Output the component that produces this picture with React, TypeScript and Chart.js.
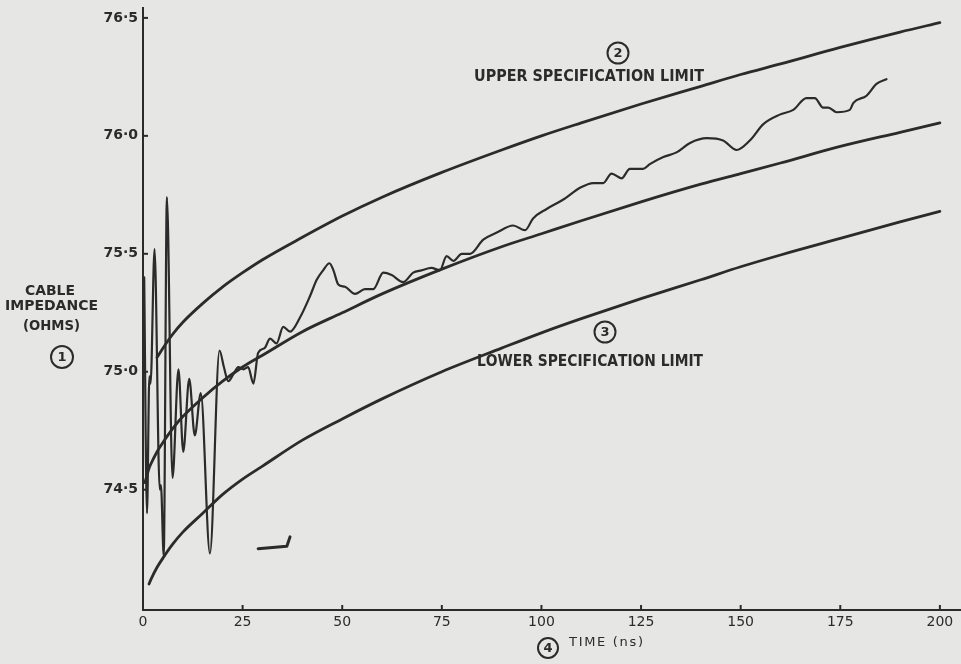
import { useEffect, useRef } from 'react';
import { Chart, registerables } from 'chart.js';

Chart.register(...registerables);

// ---- axis ticks ----
const xTicks = [0, 25, 50, 75, 100, 125, 150, 175, 200];
const yTicks = [74.0, 74.5, 75.0, 75.5, 76.0, 76.5];

// ---- specification curves (time in ns, impedance in ohms) ----
const specTime = [0.5, 1.5, 2, 3.5, 5, 7.5, 10, 15, 20, 25, 30, 40, 50, 60, 75, 90, 100, 110, 125, 140, 150, 160, 175, 190, 200];
const upperLimit = [null, null, null, 75.06, 75.10, 75.16, 75.21, 75.29, 75.36, 75.42, 75.475, 75.57, 75.66, 75.74, 75.845, 75.94, 76.0, 76.055, 76.135, 76.21, 76.26, 76.305, 76.375, 76.44, 76.48];
const nominal = [74.53, 74.59, 74.61, 74.66, 74.70, 74.76, 74.81, 74.89, 74.96, 75.02, 75.07, 75.17, 75.25, 75.33, 75.435, 75.53, 75.585, 75.64, 75.72, 75.795, 75.84, 75.885, 75.955, 76.015, 76.055];
const lowerLimit = [null, 74.10, 74.12, 74.17, 74.21, 74.27, 74.32, 74.40, 74.48, 74.545, 74.60, 74.71, 74.80, 74.885, 75.0, 75.10, 75.165, 75.225, 75.31, 75.39, 75.445, 75.495, 75.565, 75.635, 75.68];

// ---- measured cable impedance ----
const measuredTime = [0.3, 1.0, 1.6, 1.9, 2.9, 4.2, 4.5, 5.2, 6.0, 7.4, 8.9, 10.1, 11.6, 13.0, 14.5, 16.8, 19.2, 20.3, 21.4, 22.7, 23.9, 25.2, 26.4, 27.7, 28.9, 30.5, 31.9, 33.5, 35.2, 36.9, 39.4, 41.9, 43.6, 45.2, 46.8, 47.8, 49.0, 50.7, 53.2, 55.7, 57.8, 60.3, 62.4, 65.3, 67.8, 69.9, 72.4, 74.5, 76.2, 77.9, 80.0, 82.1, 85.4, 88.8, 92.9, 95.9, 97.9, 101.3, 105.5, 109.7, 113.0, 115.5, 117.6, 120.1, 122.2, 125.5, 127.2, 130.6, 133.9, 137.3, 141.5, 145.6, 149.0, 152.3, 155.7, 159.8, 163.2, 166.5, 168.6, 170.7, 172.0, 174.1, 177.4, 178.3, 181.6, 184.1, 186.6];
const measuredImpedance = [75.40, 74.40, 74.98, 74.95, 75.52, 74.50, 74.52, 74.22, 75.74, 74.55, 75.01, 74.66, 74.97, 74.73, 74.91, 74.23, 75.09, 75.02, 74.96, 74.99, 75.02, 75.01, 75.02, 74.95, 75.08, 75.10, 75.14, 75.12, 75.19, 75.17, 75.23, 75.32, 75.39, 75.43, 75.46, 75.43, 75.37, 75.36, 75.33, 75.35, 75.35, 75.42, 75.41, 75.38, 75.42, 75.43, 75.44, 75.43, 75.49, 75.47, 75.50, 75.50, 75.56, 75.59, 75.62, 75.60, 75.65, 75.69, 75.73, 75.78, 75.80, 75.80, 75.84, 75.82, 75.86, 75.86, 75.88, 75.91, 75.93, 75.97, 75.99, 75.98, 75.94, 75.98, 76.05, 76.09, 76.11, 76.16, 76.16, 76.12, 76.12, 76.10, 76.11, 76.14, 76.17, 76.22, 76.24];

// ---- stray trace fragment ----
const fragmentTime = [28.9, 36.1, 36.9];
const fragmentImpedance = [74.25, 74.26, 74.30];

const INK = '#2b2b2b';
const BG = '#e6e6e4';
const FONT = '"DejaVu Sans", "Liberation Sans", sans-serif';

function pts(xs: number[], ys: (number | null)[]) {
  return xs.map((x, i) => ({ x, y: ys[i] }));
}

function drawFit(ctx: CanvasRenderingContext2D, text: string, x0: number, x1: number, cy: number, font: string) {
  ctx.font = font;
  ctx.textBaseline = 'middle';
  ctx.textAlign = 'left';
  const chars = Array.from(text);
  const widths = chars.map((c) => ctx.measureText(c).width);
  const natural = widths.reduce((a, b) => a + b, 0);
  const target = x1 - x0;
  if (natural <= target) {
    const sp = chars.length > 1 ? (target - natural) / (chars.length - 1) : 0;
    let x = x0;
    chars.forEach((c, i) => {
      ctx.fillText(c, x, cy);
      x += widths[i] + sp;
    });
  } else {
    ctx.save();
    ctx.translate(x0, cy);
    ctx.scale(target / natural, 1);
    let x = 0;
    chars.forEach((c, i) => {
      ctx.fillText(c, x, 0);
      x += widths[i];
    });
    ctx.restore();
  }
}

function circled(ctx: CanvasRenderingContext2D, label: string, cx: number, cy: number, r: number) {
  ctx.beginPath();
  ctx.lineWidth = 2;
  ctx.strokeStyle = INK;
  ctx.arc(cx, cy, r, 0, Math.PI * 2);
  ctx.stroke();
  ctx.font = `bold 13px ${FONT}`;
  ctx.textAlign = 'center';
  ctx.textBaseline = 'middle';
  ctx.fillText(label, cx, cy + 1);
}

const decor = {
  id: 'decor',
  beforeDraw(chart: any) {
    const { ctx, width, height } = chart;
    ctx.save();
    ctx.fillStyle = BG;
    ctx.fillRect(0, 0, width, height);
    ctx.restore();
  },
  afterDraw(chart: any) {
    const { ctx, chartArea, scales } = chart;
    ctx.save();
    ctx.strokeStyle = INK;
    ctx.fillStyle = INK;
    ctx.lineWidth = 2;
    // inward tick marks
    xTicks.forEach((v) => {
      const px = scales.x.getPixelForValue(v);
      ctx.beginPath();
      ctx.moveTo(px, chartArea.bottom);
      ctx.lineTo(px, chartArea.bottom - 5);
      ctx.stroke();
    });
    yTicks.forEach((v) => {
      if (v === 74) return;
      const py = scales.y.getPixelForValue(v);
      ctx.beginPath();
      ctx.moveTo(chartArea.left, py);
      ctx.lineTo(chartArea.left + 5, py);
      ctx.stroke();
    });
    // annotations
    drawFit(ctx, 'UPPER SPECIFICATION LIMIT', 474, 704, 77, `bold 16px ${FONT}`);
    drawFit(ctx, 'LOWER SPECIFICATION LIMIT', 477, 703, 362, `bold 16px ${FONT}`);
    drawFit(ctx, 'CABLE', 25, 75, 291, `bold 14px ${FONT}`);
    drawFit(ctx, 'IMPEDANCE', 5, 98, 306.5, `bold 14px ${FONT}`);
    drawFit(ctx, '(OHMS)', 23, 80, 326.5, `bold 14px ${FONT}`);
    drawFit(ctx, 'TIME (ns)', 569, 643, 643, `13px ${FONT}`);
    circled(ctx, '1', 62, 357, 11);
    circled(ctx, '2', 618, 53, 10.5);
    circled(ctx, '3', 605, 332, 10.5);
    circled(ctx, '4', 548, 648, 10);
    ctx.restore();
  },
};

export default function App() {
  const ref = useRef<HTMLCanvasElement | null>(null);

  useEffect(() => {
    document.body.style.margin = '0';
    const canvas = ref.current;
    if (!canvas) return;
    const line = (data: any[], width: number) => ({
      data,
      borderColor: INK,
      borderWidth: width,
      pointRadius: 0,
      fill: false,
      cubicInterpolationMode: 'monotone' as const,
      borderCapStyle: 'round' as const,
      borderJoinStyle: 'round' as const,
    });
    const chart = new Chart(canvas, {
      type: 'line',
      data: {
        datasets: [
          { label: 'Upper specification limit', ...line(pts(specTime, upperLimit), 2.8) },
          { label: 'Nominal', ...line(pts(specTime, nominal), 2.8) },
          { label: 'Lower specification limit', ...line(pts(specTime, lowerLimit), 2.8) },
          { label: 'Measured impedance', ...line(pts(measuredTime, measuredImpedance), 2.2) },
          { label: 'Fragment', ...line(pts(fragmentTime, fragmentImpedance), 3), cubicInterpolationMode: 'default' as const, tension: 0 },
        ],
      },
      options: {
        animation: false,
        responsive: false,
        devicePixelRatio: 1,
        layout: { padding: { left: 0, right: 0, top: 8, bottom: 0 } },
        plugins: { legend: { display: false }, tooltip: { enabled: false }, title: { display: false } },
        scales: {
          x: {
            type: 'linear',
            min: 0,
            max: 205.3,
            afterBuildTicks: (s: any) => {
              s.ticks = xTicks.map((v) => ({ value: v }));
            },
            afterFit: (s: any) => {
              s.height = 54;
              s.paddingLeft = 0;
              s.paddingRight = 0;
            },
            grid: { display: true, drawOnChartArea: false, drawTicks: false },
            border: { display: true, color: INK, width: 2 },
            ticks: {
              autoSkip: false,
              maxRotation: 0,
              padding: 5,
              color: INK,
              font: { family: FONT, size: 14, lineHeight: 1 },
              callback: (v: any) => String(v),
            },
          },
          y: {
            type: 'linear',
            min: 73.99,
            max: 76.542,
            afterBuildTicks: (s: any) => {
              s.ticks = yTicks.map((v) => ({ value: v }));
            },
            afterFit: (s: any) => {
              s.width = 143;
              s.paddingTop = 0;
              s.paddingBottom = 0;
            },
            grid: { display: true, drawOnChartArea: false, drawTicks: false },
            border: { display: true, color: INK, width: 2 },
            ticks: {
              padding: 5,
              color: INK,
              font: { family: FONT, size: 14, weight: 'bold', lineHeight: 1 },
              callback: (v: any) => (Math.abs(v - 74) < 1e-6 ? '' : Number(v).toFixed(1).replace('.', '\u00B7')),
            },
          },
        },
      },
      plugins: [decor],
    });
    return () => chart.destroy();
  }, []);

  return <canvas ref={ref} width={961} height={664} style={{ display: 'block' }} />;
}
